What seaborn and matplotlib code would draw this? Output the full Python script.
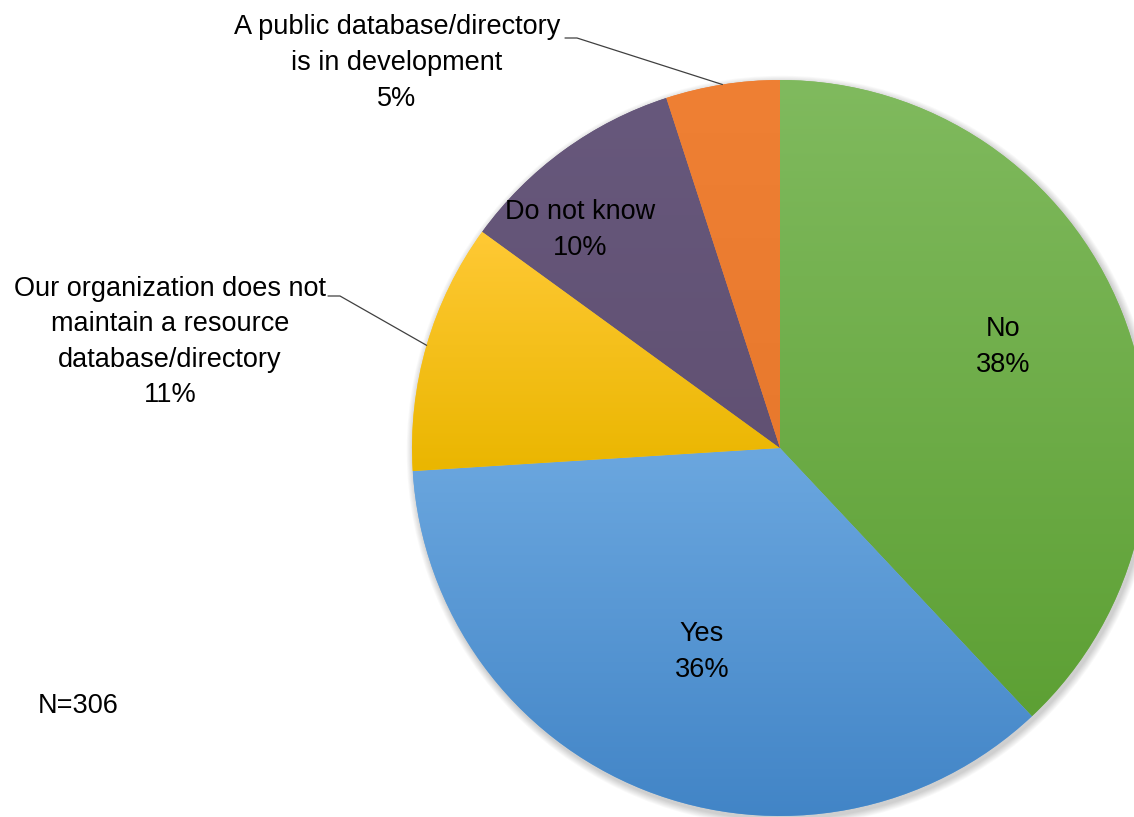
import numpy as np
import matplotlib
matplotlib.use('Agg')
import matplotlib.pyplot as plt
import seaborn as sns
from matplotlib.colors import LinearSegmentedColormap
from matplotlib.patches import Circle

sns.set_theme(style='white')
plt.rcParams['font.family'] = ['Liberation Sans', 'DejaVu Sans']

# data
categories = ['No', 'Yes',
              'Our organization does not\nmaintain a resource\ndatabase/directory',
              'Do not know',
              'A public database/directory\nis in development']
shares = [38, 36, 11, 10, 5]
n_total = 306

# light (top) / dark (bottom) gradient colours per slice
top_colors = ['#80ba5e', '#6ba7df', '#ffc935', '#67587c', '#ef8034']
bottom_colors = ['#5da034', '#4184c6', '#eab600', '#615173', '#e8792d']

W, H = 1134, 817
fig = plt.figure(figsize=(W / 100, H / 100), dpi=100)
ax = fig.add_axes([0, 0, 1, 1])

cx, cy, R = 780, H - 448, 368

# soft shadow
for i in range(8):
    ax.add_patch(Circle((cx + 2, cy - 3), R + 1 + i * 0.9, color='black',
                        alpha=0.025, lw=0, zorder=0))

wedges, _ = ax.pie(shares, startangle=90, counterclock=False, center=(cx, cy),
                   radius=R, colors=top_colors, frame=True,
                   wedgeprops=dict(linewidth=0))

grad = np.linspace(0, 1, 256).reshape(-1, 1)
for w, c0, c1 in zip(wedges, top_colors, bottom_colors):
    v = w.get_path().vertices
    cmap = LinearSegmentedColormap.from_list('g', [c1, c0])
    im = ax.imshow(grad, cmap=cmap, origin='lower', aspect='auto',
                   extent=[v[:, 0].min(), v[:, 0].max(), v[:, 1].min(), v[:, 1].max()],
                   zorder=w.get_zorder() + 0.1)
    im.set_clip_path(w)

# labels
pcts = [f'{s}%' for s in shares]
fs = 19.5
txt = dict(fontsize=fs, color='black', ha='center', va='center', linespacing=1.48, zorder=5)

ax.text(1003, H - 347, f'{categories[0]}\n{pcts[0]}', **txt)
ax.text(702, H - 652, f'{categories[1]}\n{pcts[1]}', **txt)
ax.text(580, H - 230, f'{categories[3]}\n{pcts[3]}', **txt)
ax.text(170, H - 342, f'{categories[2]}\n{pcts[2]}', **txt)
ax.text(397, H - 63, f'{categories[4]}\n{pcts[4]}', **txt)
ax.text(38, H - 706, f'N={n_total}', fontsize=fs, color='black', ha='left', va='center')

# leader lines to slice mid-angles
cum = np.cumsum([0] + shares)
mid = [90 - (cum[i] + shares[i] / 2) * 3.6 for i in range(len(shares))]


def edge(i):
    a = np.deg2rad(mid[i])
    return cx + R * np.cos(a), cy + R * np.sin(a)


ex, ey = edge(4)
ax.plot([565, 577, ex], [H - 38, H - 38, ey], color='#404040', lw=0.9, zorder=6)
ex, ey = edge(2)
ax.plot([328, 340, ex], [H - 296, H - 296, ey], color='#404040', lw=0.9, zorder=6)

ax.set_xlim(0, W)
ax.set_ylim(0, H)
ax.set_aspect('equal')
ax.axis('off')

fig.savefig('out.png', dpi=100, facecolor='white')
